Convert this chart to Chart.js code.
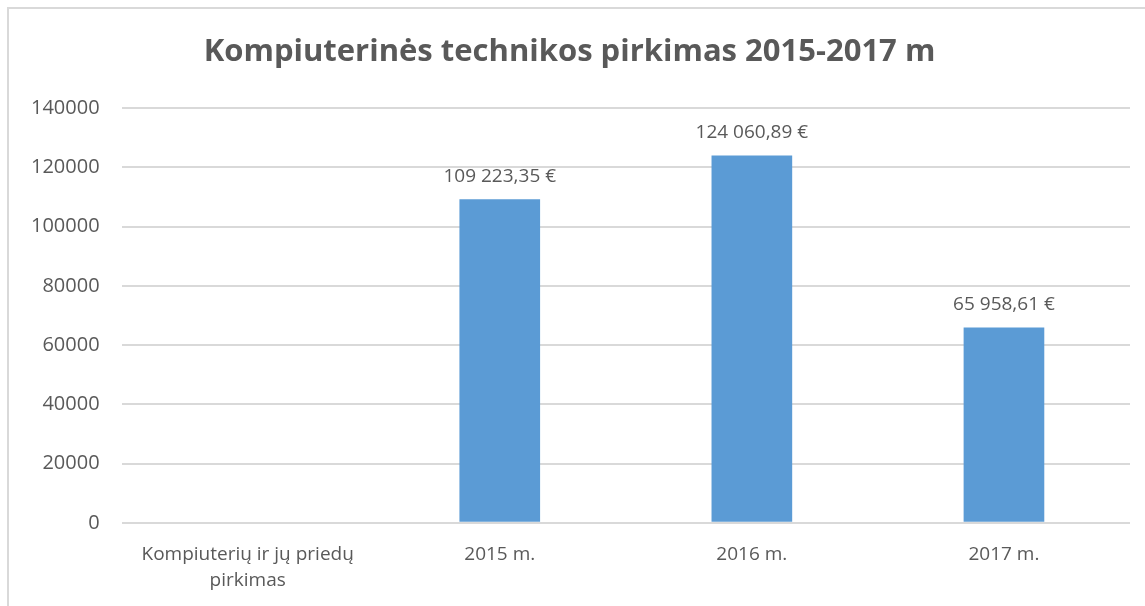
<!DOCTYPE html>
<html>
<head>
<meta charset="utf-8">
<script src="https://cdn.jsdelivr.net/npm/chart.js@4"></script>
<style>
  html, body { margin: 0; padding: 0; background: #fff; }
  #frame {
    position: absolute; left: 7px; top: 7px; right: 0; bottom: 0;
    border-left: 2px solid #d9d9d9; border-top: 2px solid #d9d9d9;
  }
  #wrap { position: absolute; left: 0; top: 0; width: 1145px; height: 606px; }
</style>
</head>
<body>
<div id="frame"></div>
<div id="wrap"><canvas id="chart" width="1145" height="606"></canvas></div>
<script>
const categories = [['Kompiuterių ir jų priedų', 'pirkimas'], '2015 m.', '2016 m.', '2017 m.'];
const amounts = [null, 109223.35, 124060.89, 65958.61];
const yTicks = [0, 20000, 40000, 60000, 80000, 100000, 120000, 140000];

const FONT = "'Open Sans', 'Noto Sans', sans-serif";
const TEXT = '#595959';

// 109223.35 -> "109 223,35 €"
function euro(v) {
    const parts = v.toFixed(2).split('.');
    const whole = parts[0].replace(/\B(?=(\d{3})+(?!\d))/g, ' ');
    return whole + ',' + parts[1] + ' €';
}

// подписи над столбцами
const barLabels = {
    id: 'barLabels',
    afterDatasetsDraw(c) {
        const ctx = c.ctx;
        const meta = c.getDatasetMeta(0);
        ctx.save();
        ctx.font = '19px ' + FONT;
        ctx.fillStyle = TEXT;
        ctx.textAlign = 'center';
        ctx.textBaseline = 'bottom';
        meta.data.forEach((bar, i) => {
            const v = amounts[i];
            if (v == null) return;
            ctx.fillText(euro(v), bar.x, bar.y - 13);
        });
        ctx.restore();
    }
};

const ctx = document.getElementById('chart').getContext('2d');
new Chart(ctx, {
    type: 'bar',
    data: {
        labels: categories,
        datasets: [{
            data: amounts,
            backgroundColor: '#5b9bd5',
            categoryPercentage: 0.64,
            barPercentage: 0.5
        }]
    },
    options: {
        responsive: false,
        animation: false,
        layout: { padding: { left: 9, right: 15, top: 18, bottom: 2 } },
        plugins: {
            legend: { display: false },
            tooltip: { enabled: false },
            title: {
                display: true,
                text: 'Kompiuterinės technikos pirkimas 2015-2017 m',
                color: TEXT,
                font: { family: FONT, size: 31, weight: 'bold' },
                padding: { top: 16, bottom: 37 }
            }
        },
        scales: {
            x: {
                grid: { display: false },
                border: { display: false },
                ticks: { color: TEXT, font: { family: FONT, size: 19, lineHeight: 1.4 }, maxRotation: 0, padding: 10 }
            },
            y: {
                min: 0,
                max: 140000,
                afterBuildTicks(axis) { axis.ticks = yTicks.map(v => ({ value: v })); },
                grid: { color: '#d9d9d9', lineWidth: 2, drawTicks: false },
                border: { display: false },
                ticks: {
                    color: TEXT,
                    font: { family: FONT, size: 20 },
                    padding: 22,
                    callback: v => String(v)
                }
            }
        }
    },
    plugins: [barLabels]
});
</script>
</body>
</html>
